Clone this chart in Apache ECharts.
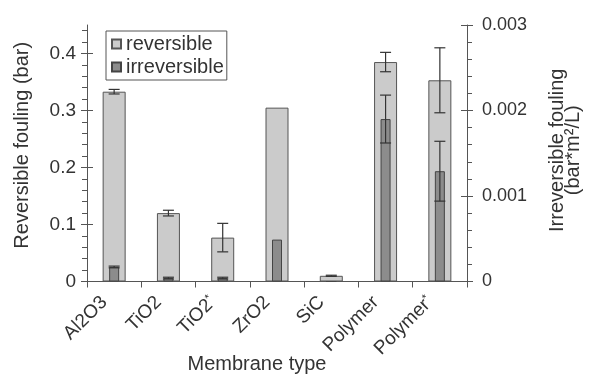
<!DOCTYPE html>
<html>
<head>
<meta charset="utf-8">
<script src="https://cdn.jsdelivr.net/npm/echarts@6/dist/echarts.min.js"></script>
<style>
  html, body { margin: 0; padding: 0; background: #fff; }
  #chart { width: 598px; height: 374px; }
</style>
</head>
<body>
<div id="chart"></div>
<script>
// Membrane types along the x axis
const categories = ['Al2O3', 'TiO2', 'TiO2*', 'ZrO2', 'SiC', 'Polymer', 'Polymer*'];

// Reversible fouling (bar), left axis, with error half-widths
const reversible    = [0.333, 0.120, 0.077, 0.305, 0.010, 0.385, 0.353];
const reversibleErr = [0.004, 0.005, 0.025, null, 0.001, 0.017, 0.057];

// Irreversible fouling (bar*m2/L), right axis, with error half-widths
const irreversible    = [0.00017, 0.00004, 0.00004, 0.00049, 0, 0.00190, 0.00129];
const irreversibleErr = [0.00001, 0.00001, 0.00001, null, null, 0.00028, 0.00035];

// Tick values
const leftTicks  = [0, 0.1, 0.2, 0.3, 0.4];
const leftMinor  = [0.02, 0.04, 0.06, 0.08, 0.12, 0.14, 0.16, 0.18, 0.22, 0.24, 0.26, 0.28,
                    0.32, 0.34, 0.36, 0.38, 0.42, 0.44];
const rightTicks = [0, 0.001, 0.002, 0.003];

const FONT = "'Liberation Sans', Arial, Helvetica, sans-serif";
const TEXT = '#333';
const AXIS = '#555';

function errData(vals, errs) {
  const out = [];
  vals.forEach((v, i) => {
    if (errs[i] != null) out.push([i, v - errs[i], v + errs[i]]);
  });
  return out;
}

function errorBars(params, api) {
  const i = api.value(0);
  const top = api.coord([i, api.value(2)]);
  const bot = api.coord([i, api.value(1)]);
  const hw = 5.5;
  const style = { stroke: '#333', lineWidth: 1.2, fill: null };
  return {
    type: 'group',
    children: [
      { type: 'line', shape: { x1: top[0], y1: top[1], x2: bot[0], y2: bot[1] }, style },
      { type: 'line', shape: { x1: top[0] - hw, y1: top[1], x2: top[0] + hw, y2: top[1] }, style },
      { type: 'line', shape: { x1: bot[0] - hw, y1: bot[1], x2: bot[0] + hw, y2: bot[1] }, style }
    ]
  };
}

function fmtLeft(v) { return v === 0 ? '0' : v.toFixed(1); }
function fmtRight(v) { return v === 0 ? '0' : v.toFixed(3); }

const chart = echarts.init(document.getElementById('chart'), null, { renderer: 'canvas' });

chart.setOption({
  animation: false,
  backgroundColor: '#fff',
  textStyle: { fontFamily: FONT, color: TEXT },
  grid: { left: 87, right: 131, top: 25, bottom: 92.5, outerBoundsMode: 'none', containLabel: false },
  legend: {
    orient: 'vertical',
    left: 106, top: 31,
    padding: [3, 3, 3, 5],
    itemGap: 3,
    itemWidth: 9, itemHeight: 9,
    borderColor: AXIS, borderWidth: 1,
    icon: 'rect',
    textStyle: { fontFamily: FONT, fontSize: 20, color: TEXT },
    data: ['reversible', 'irreversible']
  },
  xAxis: [
    {
      type: 'category',
      data: categories,
      axisLine: { lineStyle: { color: AXIS, width: 1 } },
      axisTick: { show: true, length: 6, lineStyle: { color: AXIS } },
      axisLabel: {
        rotate: 45, margin: 8, fontSize: 19, color: TEXT, fontFamily: FONT,
        padding: [0, 14, 0, 0],
        formatter: (v) => v.endsWith('*') ? v.slice(0, -1) + '{s|*}' : v,
        rich: { s: { fontSize: 11, verticalAlign: 'top', color: TEXT, fontFamily: FONT, padding: [0, 0, 8, 0] } }
      },
      name: 'Membrane type',
      nameLocation: 'middle',
      nameGap: 73,
      nameMoveOverlap: false,
      nameTextStyle: { fontSize: 20, color: TEXT, fontFamily: FONT, padding: [0, 40, 0, 0] }
    },
    { type: 'category', data: categories, show: false }
  ],
  yAxis: [
    {
      type: 'value', position: 'left', min: 0, max: 0.45, interval: 0.1,
      axisLine: { show: true, lineStyle: { color: AXIS } },
      axisTick: { show: true, length: 6, customValues: leftTicks, lineStyle: { color: AXIS } },
      axisLabel: { customValues: leftTicks, formatter: fmtLeft, fontSize: 19, color: TEXT, fontFamily: FONT, margin: 11 },
      splitLine: { show: false },
      name: 'Reversible fouling (bar)',
      nameLocation: 'middle', nameGap: 55, nameRotate: 90,
      nameMoveOverlap: false,
      nameTextStyle: { fontSize: 20, color: TEXT, fontFamily: FONT, padding: [0, 0, 0, 16] }
    },
    {
      type: 'value', position: 'right', min: 0, max: 0.003, interval: 0.001,
      axisLine: { show: true, lineStyle: { color: AXIS } },
      axisTick: { show: true, length: 6, lineStyle: { color: AXIS } },
      minorTick: { show: true, splitNumber: 5, length: 5, lineStyle: { color: AXIS } },
      axisLabel: { customValues: rightTicks, formatter: fmtRight, fontSize: 18, color: TEXT, fontFamily: FONT, margin: 15 },
      splitLine: { show: false },
      minorSplitLine: { show: false },
      name: 'Irreversible fouling\n(bar*m²/L)',
      nameLocation: 'middle', nameGap: 82, nameRotate: 90,
      nameMoveOverlap: false,
      nameTextStyle: {
        fontSize: 20, color: TEXT, fontFamily: FONT, lineHeight: 16, align: 'center',
        padding: [0, 0, 0, 6]
      }
    },
    {
      // inward half of the left major ticks
      type: 'value', position: 'left', min: 0, max: 0.45, interval: 0.1,
      axisLine: { show: false },
      axisTick: { show: true, inside: true, length: 6, customValues: leftTicks, lineStyle: { color: AXIS } },
      axisLabel: { show: false }, splitLine: { show: false }
    },
    {
      // left minor ticks
      type: 'value', position: 'left', min: 0, max: 0.45, interval: 0.02,
      axisLine: { show: false },
      axisTick: { show: true, length: 5, customValues: leftMinor, lineStyle: { color: AXIS } },
      axisLabel: { show: false }, splitLine: { show: false }
    },
    {
      // inward half of the right major ticks
      type: 'value', position: 'right', min: 0, max: 0.003, interval: 0.001,
      axisLine: { show: false },
      axisTick: { show: true, inside: true, length: 6, lineStyle: { color: AXIS } },
      axisLabel: { show: false }, splitLine: { show: false }
    }
  ],
  series: [
    {
      name: 'reversible', type: 'bar', xAxisIndex: 0, yAxisIndex: 0,
      data: reversible, barWidth: 23,
      itemStyle: { color: '#cbcbcb', borderColor: '#555', borderWidth: 1 },
      z: 2
    },
    {
      name: 'reversibleError', type: 'custom', xAxisIndex: 0, yAxisIndex: 0,
      data: errData(reversible, reversibleErr),
      encode: { x: 0, y: [1, 2] },
      renderItem: errorBars, z: 3
    },
    {
      name: 'irreversible', type: 'bar', xAxisIndex: 1, yAxisIndex: 1,
      data: irreversible, barWidth: 10,
      itemStyle: { color: '#8c8c8c', borderColor: '#444', borderWidth: 1 },
      z: 4
    },
    {
      name: 'irreversibleError', type: 'custom', xAxisIndex: 1, yAxisIndex: 1,
      data: errData(irreversible, irreversibleErr),
      encode: { x: 0, y: [1, 2] },
      renderItem: errorBars, z: 5
    }
  ]
});
</script>
</body>
</html>
